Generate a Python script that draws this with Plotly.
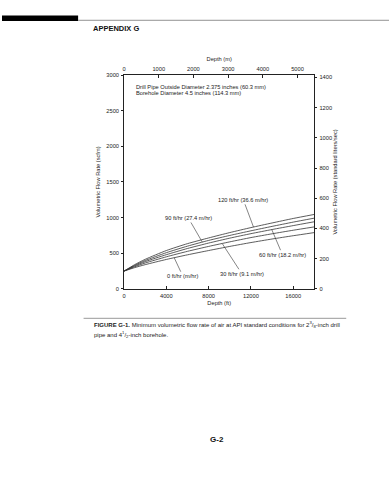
import numpy as np
import plotly.graph_objects as go

W, H = 389, 480

# Minimum air flow (scfm) versus depth (ft) for each penetration rate
depth_ft = [0, 1000, 2000, 4000, 6000, 8000, 10000, 12000, 14000, 16000, 18000]
flow_120 = [250, 340, 415, 538, 635, 715, 790, 860, 925, 988, 1045]
flow_90 = [250, 330, 398, 508, 600, 680, 750, 815, 877, 937, 993]
flow_60 = [250, 320, 382, 480, 567, 643, 712, 775, 833, 888, 942]
flow_30 = [250, 310, 363, 450, 527, 596, 660, 720, 773, 823, 870]
flow_0 = [250, 298, 340, 413, 478, 538, 596, 650, 700, 746, 790]

rate_labels = [
    "120 ft/hr (36.6 m/hr)",
    "90 ft/hr (27.4 m/hr)",
    "60 ft/hr (18.2 m/hr)",
    "30 ft/hr (9.1 m/hr)",
    "0 ft/hr (m/hr)",
]

ft_ticks = [0, 4000, 8000, 12000, 16000]
m_ticks = [0, 1000, 2000, 3000, 4000, 5000]
scfm_ticks = [0, 500, 1000, 1500, 2000, 2500, 3000]
lps_ticks = [0, 200, 400, 600, 800, 1000, 1200, 1400]

FT_TO_M = 0.3048
SCFM_TO_LPS = 0.4719474
X_MAX, Y_MAX = 18000, 3000

series = [flow_120, flow_90, flow_60, flow_30, flow_0]

# label text centre (ft, scfm) and depth where the leader meets its curve
label_place = [
    (11280, 1250, 12240),
    (6080, 995, 7400),
    (14980, 480, 13970),
    (11140, 212, 9280),
    (5560, 178, 4740),
]

FONT = "Liberation Sans, Arial, Helvetica, sans-serif"
NARROW = "Liberation Sans Narrow, Liberation Sans, Arial, sans-serif"
INK = "#222222"
SMALL = 5.7


def px_x(p):
    return p / W


def px_y(p):
    return 1 - p / H


fig = go.Figure()

for vals in series:
    fig.add_trace(go.Scatter(
        x=depth_ft, y=vals, mode="lines",
        line=dict(color="#333333", width=0.8, shape="spline", smoothing=0.6),
        hoverinfo="skip", showlegend=False,
    ))

# anchor trace for the metric axes (top / right)
fig.add_trace(go.Scatter(
    x=[0], y=[0], xaxis="x2", yaxis="y2", mode="markers",
    marker=dict(opacity=0), hoverinfo="skip", showlegend=False,
))

annotations = []
for text, vals, (tx, ty, dx) in zip(rate_labels, series, label_place):
    dy = float(np.interp(dx, depth_ft, vals))
    annotations.append(dict(
        x=dx, y=dy, xref="x", yref="y",
        ax=tx, ay=ty, axref="x", ayref="y",
        text=text, showarrow=True, arrowhead=0, arrowwidth=0.6,
        arrowcolor="#333333", standoff=0, startstandoff=0,
        font=dict(family=FONT, size=SMALL, color=INK),
    ))

annotations += [
    dict(x=965, y=2830, xref="x", yref="y", xanchor="left", yanchor="middle",
         showarrow=False, align="left",
         text="Drill Pipe Outside Diameter 2.375 inches (60.3 mm)",
         font=dict(family=FONT, size=SMALL, color=INK)),
    dict(x=965, y=2745, xref="x", yref="y", xanchor="left", yanchor="middle",
         showarrow=False, align="left",
         text="Borehole Diameter 4.5 inches (114.3 mm)",
         font=dict(family=FONT, size=SMALL, color=INK)),
    dict(x=px_x(89), y=px_y(25.5), xref="paper", yref="paper",
         xanchor="left", yanchor="middle", showarrow=False,
         text="<b>APPENDIX G</b>",
         font=dict(family=NARROW, size=7.5, color="#111111")),
    dict(x=px_x(216), y=px_y(442), xref="paper", yref="paper",
         xanchor="center", yanchor="middle", showarrow=False,
         text="<b>G-2</b>",
         font=dict(family=NARROW, size=8, color="#111111")),
    dict(x=px_x(90), y=px_y(325.5), xref="paper", yref="paper",
         xanchor="left", yanchor="middle", showarrow=False, align="left",
         text=("<b>FIGURE G-1.</b> Minimum volumetric flow rate of air at API "
               "standard conditions for 2<sup>3</sup>/<sub>8</sub>-inch drill"),
         font=dict(family=NARROW, size=6.0, color=INK)),
    dict(x=px_x(90), y=px_y(335.5), xref="paper", yref="paper",
         xanchor="left", yanchor="middle", showarrow=False, align="left",
         text="pipe and 4<sup>1</sup>/<sub>2</sub>-inch borehole.",
         font=dict(family=NARROW, size=6.0, color=INK)),
]

shapes = [
    # page header bar and rule
    dict(type="rect", xref="paper", yref="paper",
         x0=0, x1=px_x(76.5), y0=px_y(18.3), y1=px_y(12.7),
         fillcolor="#000000", line=dict(width=0)),
    dict(type="line", xref="paper", yref="paper",
         x0=px_x(76.5), x1=1, y0=px_y(17.5), y1=px_y(17.5),
         line=dict(color="#777777", width=0.8)),
    # rule above the caption
    dict(type="line", xref="paper", yref="paper",
         x0=px_x(82), x1=px_x(346), y0=px_y(319.3), y1=px_y(319.3),
         line=dict(color="#999999", width=1)),
]

dom_x = [122.7 / W, 314 / W]
dom_y = [1 - 289.5 / H, 1 - 73 / H]

tick_font = dict(family=FONT, size=SMALL, color=INK)
title_font = dict(family=FONT, size=SMALL, color=INK)
common = dict(
    tickwidth=0.6, tickcolor=INK, showline=True, linecolor=INK, linewidth=0.8,
    showgrid=False, zeroline=False, tickfont=tick_font, ticklabelstandoff=1,
)

fig.update_layout(
    width=W, height=H,
    margin=dict(l=0, r=0, t=0, b=0),
    paper_bgcolor="white", plot_bgcolor="white",
    showlegend=False,
    annotations=annotations,
    shapes=shapes,
    xaxis=dict(
        domain=dom_x, range=[0, X_MAX], tickvals=ft_ticks,
        ticktext=[str(v) for v in ft_ticks],
        ticks="inside", ticklen=3, anchor="y",
        title=dict(text="Depth (ft)", font=title_font, standoff=3),
        **common,
    ),
    xaxis2=dict(
        domain=dom_x, range=[0, X_MAX * FT_TO_M], tickvals=m_ticks,
        ticktext=[str(v) for v in m_ticks],
        overlaying="x", side="top", anchor="y",
        ticks="inside", ticklen=3,
        title=dict(text="Depth (m)", font=title_font, standoff=3),
        **common,
    ),
    yaxis=dict(
        domain=dom_y, range=[0, Y_MAX], tickvals=scfm_ticks,
        ticktext=[str(v) for v in scfm_ticks],
        ticks="outside", ticklen=2, anchor="x",
        title=dict(text="Volumetric Flow Rate (scfm)", font=title_font,
                   standoff=5),
        **common,
    ),
    yaxis2=dict(
        domain=dom_y, range=[0, Y_MAX * SCFM_TO_LPS], tickvals=lps_ticks,
        ticktext=[str(v) for v in lps_ticks],
        overlaying="y", side="right", anchor="x",
        ticks="outside", ticklen=2,
        title=dict(text="Volumetric Flow Rate (standard liters/sec)",
                   font=title_font, standoff=1),
        **common,
    ),
)

fig.write_html("out.html")
